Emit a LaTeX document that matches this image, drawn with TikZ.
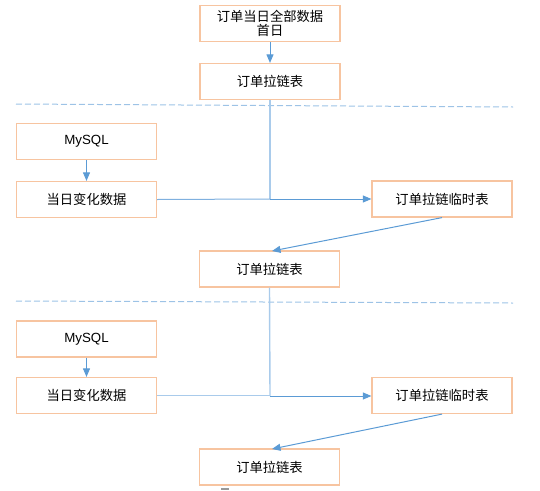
\documentclass[tikz,border=0pt]{standalone}
\usepackage{fontspec}
\newfontfamily\cjk{Noto Sans CJK SC}
\newfontfamily\lat{Liberation Sans}
\usetikzlibrary{arrows.meta}
\definecolor{boxc}{HTML}{F7C4A0}
\definecolor{lnc}{HTML}{5B9BD5}
\definecolor{lnlight}{HTML}{A9CBEB}
\definecolor{lnmid}{HTML}{7FB0DF}
\definecolor{dashc}{HTML}{9DC3E6}
\tikzset{
  box/.style={draw=boxc, line width=1.2pt, fill=white, minimum width=140pt, minimum height=36pt, inner sep=0pt, align=center, font=\cjk\fontsize{13.3}{14.5}\selectfont},
  arr/.style={draw=lnc, line width=1pt, -{Triangle[length=8.5pt,width=7pt]}},
  lnl/.style={draw=lnlight, line width=1.4pt},
  sep/.style={draw=dashc, line width=1pt, dash pattern=on 6pt off 3pt},
}
\begin{document}
\begin{tikzpicture}[x=1pt,y=-1pt]
\useasboundingbox (0,0) rectangle (540,490);
% separators
\draw[sep] (16,104) -- (513,107);
\draw[sep] (16,301) -- (513,303);
% nodes
\node[box] (a) at (270,23.5) {订单当日全部数据\\首日};
\node[box] (b) at (270,81.5) {订单拉链表};
\node[box] (m1) at (86.5,141.5) {\lat MySQL};
\node[box] (c1) at (86.5,199.5) {当日变化数据};
\node[box] (t1) at (442,199) {订单拉链临时表};
\node[box] (b2) at (269.5,269) {订单拉链表};
\node[box] (m2) at (86.5,339) {\lat MySQL};
\node[box] (c2) at (86.5,395.5) {当日变化数据};
\node[box] (t2) at (442,395.5) {订单拉链临时表};
\node[box] (b3) at (269.5,467) {订单拉链表};
\coordinate (j1) at (270,199);
\coordinate (j2) at (270,396);
% connectors
\draw[arr] (a) -- (b);
\draw[arr] (m1) -- (c1);
\draw[arr] (m2) -- (c2);
\draw[lnl] (b.south) -- (j1);
\draw[lnmid, line width=1pt] (c1.east) -- (j1);
\draw[arr] (j1) -- (j1 -| t1.west);
\draw[arr] (t1.south) -- (272,251);
\draw[lnl] (b2.south) -- (j2);
\draw[lnlight, line width=1.2pt] (c2.east) -- (c2.east -| j2);
\draw[arr] (j2) -- (j2 -| t2.west);
\draw[arr] (t2.south) -- (272,449);
% small mark
\fill[gray!80] (221,488) rectangle (229,490);
\end{tikzpicture}
\end{document}
